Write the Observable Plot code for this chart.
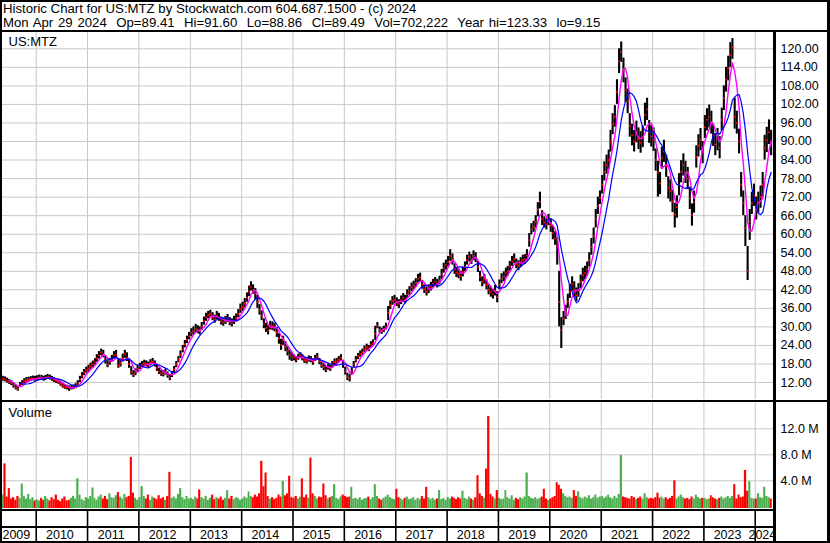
<!DOCTYPE html>
<html><head><meta charset="utf-8">
<script src="https://cdn.jsdelivr.net/npm/d3@7"></script>
<script src="https://cdn.jsdelivr.net/npm/@observablehq/plot@0.6"></script>
<style>
html,body{margin:0;padding:0;background:#fff;}
#wrap{position:relative;width:830px;height:543px;overflow:hidden;background:#fff;font-family:Arial,"Liberation Sans",sans-serif;}
.ln{position:absolute;background:#000;}
#hdr{position:absolute;left:3px;top:2.4px;font-size:13.2px;line-height:14px;white-space:pre;color:#000;}
#hdr .l2{word-spacing:1.1px;}
.pl{position:absolute;left:0;}
.pl svg{display:block;}
</style></head><body>
<div id="wrap">
<div id="hdr"><div>Historic Chart for US:MTZ by Stockwatch.com 604.687.1500 - (c) 2024</div><div class="l2">Mon Apr 29 2024  Op=89.41  Hi=91.60  Lo=88.86  Cl=89.49  Vol=702,222  Year hi=123.33  lo=9.15</div></div>
<div class="pl" id="price" style="top:32px"></div>
<div class="pl" id="vol" style="top:402px"></div>
<div class="pl" id="strip" style="top:510px"></div>
<div class="ln" style="left:0;top:0;width:830px;height:2px"></div>
<div class="ln" style="left:0;top:0;width:2px;height:543px"></div>
<div class="ln" style="left:827px;top:0;width:3px;height:543px"></div>
<div class="ln" style="left:0;top:541px;width:830px;height:2px"></div>
<div class="ln" style="left:0;top:30px;width:830px;height:2px"></div>
<div class="ln" style="left:0;top:399.5px;width:830px;height:2.5px"></div>
<div class="ln" style="left:0;top:508.5px;width:775px;height:2px"></div>
<div class="ln" style="left:0;top:526px;width:775px;height:2px"></div>
<div class="ln" style="left:773px;top:32px;width:3px;height:511px"></div>
</div>
<script>
// Half-monthly periods starting May 2009 (first/second half of each month)
const startYear = 2009, startMonth = 4;

const close = [
 13.2,13.0,12.6,12.2,11.8,11.0,10.4,10.0,11.2,11.8,12.4,12.8,12.9,13.1,13.3,13.2,
 13.4,13.6,13.5,13.2,13.5,13.8,13.6,13.2,12.8,12.5,12.2,11.6,11.0,10.6,10.4,10.2,10.3,10.4,10.8,11.6,13.0,14.2,15.2,16.0,
 16.5,17.2,17.8,18.6,19.8,20.8,21.8,21.2,19.2,17.8,18.6,19.6,20.8,21.0,17.5,18.2,19.8,21.2,20.0,18.0,15.5,14.6,15.2,16.4,
 17.2,17.8,18.2,18.0,17.6,18.4,18.8,18.0,16.6,15.6,15.0,14.8,15.4,14.4,13.6,14.6,16.2,17.8,19.4,21.0,22.8,24.4,25.8,27.0,
 28.0,28.6,29.4,29.0,28.6,30.0,31.8,33.0,33.8,34.2,33.2,32.4,33.6,33.0,31.8,31.4,32.0,32.6,31.6,31.2,32.0,32.8,34.2,35.8,
 36.4,37.6,39.4,41.4,43.0,42.0,40.8,38.0,35.4,33.6,31.0,29.6,28.8,30.4,30.2,29.8,28.2,26.2,24.2,25.6,23.6,22.2,21.0,20.4,
 20.0,19.4,20.2,20.8,20.0,19.2,19.0,19.6,19.4,18.6,19.8,20.4,18.8,17.6,17.0,16.2,17.0,16.6,17.8,18.6,18.8,19.4,20.0,18.0,
 15.6,13.8,13.4,15.6,17.8,19.4,20.4,21.2,21.8,22.8,23.4,23.0,24.2,24.8,27.8,30.4,29.0,28.6,29.2,30.0,34.6,37.0,38.4,38.8,
 38.0,37.4,38.6,39.4,38.8,40.6,41.6,42.8,43.4,44.2,45.6,46.0,43.6,42.2,41.4,42.2,43.0,44.0,44.6,44.0,45.0,47.0,49.0,50.0,
 51.0,53.0,51.8,48.6,47.6,47.2,46.4,47.8,49.4,51.6,52.6,51.8,53.0,52.4,49.4,46.2,44.6,45.4,43.6,42.0,41.2,40.6,41.8,39.6,
 43.6,45.6,46.2,47.4,48.0,49.6,51.2,52.0,50.4,49.8,50.8,51.6,51.8,53.0,58.0,61.6,62.4,64.0,67.8,70.6,65.0,63.8,63.2,64.6,
 62.8,60.4,58.6,56.0,38.0,29.0,32.6,34.8,38.2,41.4,43.8,42.0,40.2,41.8,44.6,46.8,47.4,48.6,51.6,55.8,59.4,65.0,69.2,71.8,
 76.0,80.2,82.4,84.0,90.0,95.6,98.0,106.0,116.0,119.0,113.0,106.6,103.0,95.0,92.0,90.0,93.0,90.8,89.6,91.4,98.6,100.4,93.0,91.6,
 90.6,84.0,80.0,76.4,84.6,86.8,82.0,75.0,74.0,70.6,66.4,68.8,76.0,80.2,82.4,80.0,78.0,71.6,66.2,70.4,85.0,88.6,90.6,86.4,
 94.6,97.0,98.0,96.0,92.0,89.0,90.6,88.0,97.0,104.0,110.0,113.6,118.0,120.4,98.0,96.0,90.0,76.0,70.0,62.0,48.0,64.0,70.0,72.6,
 68.0,70.2,72.0,76.0,88.0,90.4,93.0,89.5
];

const high = [
 14.0,13.8,13.4,13.0,12.6,11.9,11.2,10.8,12.0,12.6,13.2,13.6,13.7,13.9,14.1,14.0,
 14.2,14.4,14.3,14.0,14.3,14.6,14.4,14.0,13.6,13.3,13.0,12.4,11.8,11.4,11.1,10.9,11.0,11.2,11.6,12.6,14.0,15.2,16.2,17.0,
 17.6,18.3,18.9,19.7,21.0,22.0,22.8,22.4,20.6,19.0,19.8,20.8,22.0,22.4,19.6,19.6,21.2,22.4,21.6,19.8,17.2,15.8,16.4,17.6,
 18.2,18.8,19.2,19.0,18.6,19.4,19.8,19.0,17.6,16.6,16.0,15.8,16.4,15.4,14.6,15.6,17.2,18.8,20.4,22.2,24.0,25.6,27.0,28.2,
 29.4,30.0,30.8,30.4,30.0,31.4,33.2,34.4,35.0,35.4,34.6,33.8,35.0,34.4,33.2,32.8,33.4,34.0,33.0,32.6,33.4,34.2,35.6,37.4,
 38.0,39.2,41.0,43.2,44.6,43.6,42.4,40.2,37.2,35.2,32.6,31.2,30.4,31.8,31.6,31.2,29.8,27.8,26.0,27.0,25.2,23.6,22.4,21.8,
 21.0,20.4,21.2,21.6,21.0,20.2,20.0,20.6,20.4,19.6,20.8,21.4,19.8,18.6,18.0,17.2,18.0,17.6,18.8,19.6,19.8,20.4,21.0,19.2,
 17.0,15.0,14.6,16.8,18.8,20.4,21.4,22.2,22.8,23.8,24.4,24.0,25.2,25.8,30.2,31.4,30.0,29.6,30.2,31.2,36.6,38.4,39.8,40.2,
 39.4,38.8,40.0,40.8,40.2,42.0,43.0,44.2,44.8,45.6,47.0,47.4,45.0,43.6,42.8,43.6,44.4,45.4,46.0,45.4,46.4,48.6,50.6,51.6,
 52.8,55.0,53.6,50.4,49.2,48.8,48.0,49.4,51.0,53.2,54.2,53.4,54.6,54.0,51.2,48.0,46.2,47.0,45.2,43.6,42.8,42.2,43.4,41.4,
 45.2,47.2,47.8,49.0,49.6,51.2,52.8,53.6,52.0,51.4,52.4,53.2,53.4,55.0,60.2,63.4,64.2,66.0,70.2,73.6,67.6,65.6,65.0,66.4,
 65.0,62.6,60.8,59.0,48.0,33.0,35.0,37.0,40.6,43.8,46.2,44.6,42.6,44.0,46.8,49.0,49.6,51.0,54.0,58.6,62.0,68.0,72.0,74.0,
 79.0,83.4,85.6,87.2,93.6,99.0,101.6,110.0,120.0,122.2,117.0,110.6,107.0,99.0,95.6,93.6,96.6,94.4,93.2,95.0,102.4,104.0,96.8,95.2,
 94.4,87.6,83.6,80.0,88.2,90.4,85.6,78.6,77.6,74.2,70.0,72.4,79.6,83.8,86.0,83.6,81.6,75.2,69.8,74.0,88.6,92.2,94.2,90.0,
 98.4,100.6,101.8,99.8,95.6,92.6,94.2,91.6,100.8,108.0,114.0,117.6,122.0,123.3,104.0,99.8,94.0,80.0,74.0,66.0,56.0,68.0,73.6,76.2,
 72.0,73.6,75.6,80.0,92.0,94.6,97.0,93.6
];

const low = [
 12.4,12.2,11.8,11.4,11.0,10.2,9.6,9.2,10.4,11.0,11.6,12.0,12.1,12.3,12.5,12.4,
 12.6,12.8,12.7,12.4,12.7,13.0,12.8,12.4,12.0,11.7,11.4,10.8,10.2,9.8,9.6,9.15,9.6,9.7,10.0,10.8,12.0,13.2,14.2,15.0,
 15.4,16.2,16.8,17.6,18.6,19.6,20.6,20.0,18.0,16.8,17.6,18.6,19.6,19.8,16.6,17.0,18.6,19.8,18.8,16.6,14.4,13.6,14.2,15.2,
 16.2,16.8,17.2,17.0,16.6,17.4,17.8,17.0,15.6,14.6,14.0,13.8,14.4,13.4,12.6,13.6,15.2,16.8,18.4,19.8,21.6,23.2,24.6,25.8,
 26.8,27.4,28.2,27.8,27.4,28.8,30.6,31.8,32.6,33.0,32.0,31.2,32.4,31.8,30.6,30.2,30.8,31.4,30.4,30.0,30.8,31.6,33.0,34.4,
 35.0,36.2,38.0,39.8,41.6,40.6,38.6,36.0,33.8,32.0,29.4,28.2,27.4,29.0,28.8,28.4,26.6,24.4,22.4,24.0,22.0,20.6,19.2,18.8,
 19.0,18.4,19.2,19.8,19.0,18.2,18.0,18.6,18.4,17.6,18.8,19.4,17.8,16.6,15.8,15.2,16.0,15.6,16.8,17.6,17.8,18.4,18.8,16.6,
 14.4,12.6,12.2,14.4,16.8,18.4,19.4,20.2,20.8,21.8,22.4,22.0,23.2,23.8,25.6,29.4,28.0,27.6,28.2,29.0,32.0,35.6,37.0,37.4,
 36.6,36.0,37.2,38.0,37.4,39.2,40.2,41.4,42.0,42.8,44.2,44.6,42.2,40.8,40.0,40.8,41.6,42.6,43.2,42.6,43.6,45.4,47.4,48.4,
 49.4,51.2,50.0,47.0,46.0,45.6,44.8,46.2,47.8,50.0,51.0,50.2,51.4,50.8,47.6,44.6,43.0,43.8,42.0,40.4,39.6,39.0,40.0,37.8,
 42.0,44.0,44.6,45.8,46.4,48.0,49.6,50.4,48.8,48.2,49.2,50.0,50.2,51.4,55.8,59.8,60.6,62.0,65.6,68.2,62.8,62.0,61.4,62.8,
 60.6,58.2,56.4,50.0,30.0,23.0,30.4,32.4,36.0,39.2,41.6,39.6,38.2,39.6,42.4,44.6,45.2,46.4,49.4,53.2,56.8,62.0,66.4,69.6,
 73.0,77.2,79.4,81.0,86.6,92.2,94.6,102.0,112.0,115.6,109.0,102.6,99.0,91.4,88.6,86.6,89.6,87.4,86.2,88.0,95.0,96.8,89.4,88.2,
 86.8,80.4,72.0,72.8,81.0,83.2,78.4,71.4,70.4,67.0,62.0,65.2,72.4,76.6,78.8,76.4,74.4,68.0,62.6,66.8,81.4,85.0,87.0,82.8,
 91.0,93.4,94.4,92.4,88.4,85.4,87.0,84.4,93.4,100.0,106.0,109.6,114.0,116.6,94.0,92.4,86.0,72.0,66.0,56.0,45.0,58.0,66.4,69.0,
 64.6,66.8,68.4,72.0,84.0,86.4,89.0,85.4
];

// weekly-level volume, millions of shares
const volume = [
 1.8,6.6,1.5,2.8,1.2,1.4,1.0,1.6,1.3,3.5,1.6,1.2,1.9,1.1,1.4,0.9,
 1.1,0.9,1.3,1.0,1.6,1.2,0.9,1.4,1.1,1.8,1.0,0.8,1.2,1.5,0.9,1.0,1.3,1.6,1.2,4.3,1.8,1.1,0.9,1.4,
 1.2,1.6,2.9,1.3,1.0,1.5,1.8,1.2,1.6,1.1,2.0,1.4,1.3,1.7,2.2,1.5,1.2,1.9,1.4,1.6,7.6,2.1,1.3,1.0,
 1.4,3.1,1.6,1.2,1.8,1.0,1.5,1.3,1.1,1.7,1.2,1.4,1.0,1.6,5.3,1.3,1.5,1.2,1.9,2.8,1.4,1.1,1.6,1.2,
 1.3,1.1,1.5,1.2,2.6,1.4,1.2,1.6,1.0,1.3,1.8,1.1,1.4,1.2,1.5,1.0,1.3,2.5,1.2,1.6,1.1,1.4,1.3,1.0,
 1.2,1.5,1.3,2.3,1.6,1.4,1.8,1.5,2.0,7.0,3.1,5.2,1.6,1.2,1.4,1.1,1.3,1.8,1.5,3.9,1.7,2.0,4.7,1.4,
 1.3,1.6,1.2,1.5,4.3,1.4,1.8,1.3,7.5,2.0,1.6,1.2,1.5,1.4,3.5,1.7,1.2,1.4,1.6,3.4,1.3,1.1,1.5,1.8,
 1.6,1.4,1.5,3.0,1.2,1.3,1.1,1.4,1.0,1.2,1.3,1.5,1.1,1.4,3.4,1.6,1.2,1.0,1.3,1.5,1.8,1.4,1.2,1.1,
 2.7,1.4,1.2,1.0,1.3,1.5,1.1,1.2,1.4,1.0,1.3,1.1,1.6,1.2,3.0,1.4,1.1,1.3,1.0,1.2,2.5,1.1,1.3,1.0,
 1.4,1.2,1.5,1.3,1.1,1.4,1.2,2.4,1.3,1.1,1.5,1.2,1.0,1.4,4.8,2.0,1.6,1.3,5.8,13.9,1.9,1.5,1.2,2.5,
 1.3,1.1,1.2,2.5,1.4,1.2,1.7,1.0,1.3,1.1,1.4,1.2,1.5,5.2,1.6,1.3,1.2,1.4,1.1,1.3,1.5,2.7,1.2,1.0,
 1.2,1.4,1.6,3.7,3.3,2.7,2.0,1.6,1.4,1.5,1.3,2.5,1.6,2.3,1.4,1.2,1.5,1.3,1.7,1.2,1.4,1.8,1.3,1.5,
 1.6,1.3,1.5,1.8,1.4,1.2,1.6,1.3,1.9,7.9,1.5,1.4,1.3,1.2,1.6,1.4,1.1,1.3,1.5,1.2,2.0,1.4,1.2,1.3,
 1.2,1.4,2.1,1.3,1.5,1.2,1.4,1.1,1.3,1.6,4.0,1.2,1.5,1.8,1.4,1.2,1.3,1.1,1.5,1.2,1.8,1.4,1.2,1.3,
 1.3,1.1,1.2,1.7,1.4,1.2,1.1,1.3,1.5,1.2,1.4,1.6,1.3,1.6,3.4,1.2,1.8,1.4,1.5,5.6,2.4,3.9,1.3,1.2,
 1.2,2.0,1.4,1.3,3.0,1.6,1.4,1.2
];

const priceTicks = [12,18,24,30,36,42,48,54,60,66,72,78,84,90,96,102,108,114,120];
const volumeTicks = [4,8,12];
const yearLabels = ["2009","2010","2011","2012","2013","2014","2015","2016","2017","2018","2019","2020","2021","2022","2023","2024"];

const ps = i => new Date(Date.UTC(startYear, startMonth + Math.floor(i / 2), i % 2 ? 16 : 1));
const rows = close.map((c, i) => ({
  start: ps(i), end: ps(i + 1),
  date: new Date(Date.UTC(startYear, startMonth + Math.floor(i / 2), i % 2 ? 23 : 8)),
  close: c, high: high[i], low: low[i], vol: volume[i],
  up: i === 0 ? true : c >= close[i - 1]
}));

const xDomain = [new Date(Date.UTC(2009, 3, 22)), new Date(Date.UTC(2024, 4, 10))];
const xRange = [0, 773];
const yearStarts = yearLabels.slice(1).map(y => new Date(Date.UTC(+y, 0, 1)));
const labelRows = yearLabels.map(l => {
  const a = Math.max(Date.UTC(+l, 0, 1), +xDomain[0]);
  const b = Math.min(Date.UTC(+l + 1, 0, 1), +xDomain[1]);
  return {label: l, date: new Date((a + b) / 2)};
});

const font = "Arial, 'Liberation Sans', sans-serif";
const baseStyle = {fontFamily: font, fontSize: "12.5px", color: "#000", background: "transparent"};

const price = Plot.plot({
  width: 830, height: 367,
  marginLeft: 2, marginRight: 57, marginTop: 0, marginBottom: 0,
  style: baseStyle,
  x: {type: "utc", domain: xDomain, range: xRange, axis: null},
  y: {domain: [12, 120], range: [350, 16.3], axis: "right", ticks: priceTicks,
      tickFormat: d => d.toFixed(2), tickSize: 0, tickPadding: 7, label: null},
  marks: [
    Plot.ruleY(priceTicks, {stroke: "#c8c8c8", strokeWidth: 1}),
    Plot.ruleX(yearStarts, {stroke: "#c8c8c8", strokeWidth: 1}),
    Plot.ruleX(rows, {x: "date", y1: "low", y2: "high", stroke: "#000", strokeWidth: 2.1}),
    Plot.dot(rows, {x: "date", y: "close", r: 1, fill: "#ff0000", stroke: "none"}),
    Plot.lineY(rows, Plot.windowY({k: 4, anchor: "end", strict: true}, {x: "date", y: "close", stroke: "#ff00ff", strokeWidth: 1.4})),
    Plot.lineY(rows, Plot.windowY({k: 9, anchor: "end", strict: true}, {x: "date", y: "close", stroke: "#0000ff", strokeWidth: 1.2})),
    Plot.text(["US:MTZ"], {text: d => d, frameAnchor: "top-left", dx: 6, dy: 4, lineAnchor: "top", textAnchor: "start", fontSize: 13, fill: "#000"})
  ]
});

const vol = Plot.plot({
  width: 830, height: 106,
  marginLeft: 2, marginRight: 57, marginTop: 0, marginBottom: 0,
  style: baseStyle,
  x: {type: "utc", domain: xDomain, range: xRange, axis: null},
  y: {domain: [0, 12], range: [104.3, 26.3], axis: "right", ticks: volumeTicks,
      tickFormat: d => d.toFixed(1) + " M", tickSize: 0, tickPadding: 7, label: null},
  marks: [
    Plot.ruleY(volumeTicks, {stroke: "#c8c8c8", strokeWidth: 1}),
    Plot.ruleX(yearStarts, {stroke: "#c8c8c8", strokeWidth: 1}),
    Plot.rectY(rows, {x1: "start", x2: "end", y1: -0.6, y2: "vol", fill: d => d.up ? "#4caf50" : "#ff0000"}),
    Plot.text(["Volume"], {text: d => d, frameAnchor: "top-left", dx: 6, dy: 5, lineAnchor: "top", textAnchor: "start", fontSize: 13, fill: "#000"})
  ]
});

const strip = Plot.plot({
  width: 830, height: 31,
  marginLeft: 2, marginRight: 57, marginTop: 0, marginBottom: 0,
  style: baseStyle,
  x: {type: "utc", domain: xDomain, range: xRange, axis: null},
  y: {domain: [0, 31], range: [0, 31], axis: null},
  marks: [
    Plot.ruleX(yearStarts, {y1: 0, y2: 31, stroke: "#000", strokeWidth: 1.6}),
    Plot.text(labelRows, {x: "date", y: 24, text: "label", dx: -2, fontSize: 12.5, fill: "#000"})
  ]
});

document.getElementById("price").append(price);
document.getElementById("vol").append(vol);
document.getElementById("strip").append(strip);
</script>
</body></html>
